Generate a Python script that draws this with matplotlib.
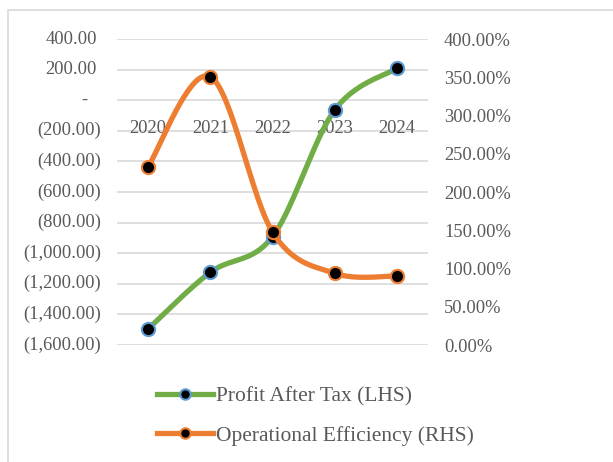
import matplotlib as mpl
import matplotlib.pyplot as plt
import matplotlib.transforms as mtransforms
from matplotlib.lines import Line2D
from matplotlib.patches import Rectangle
import numpy as np

mpl.rcParams.update(
    {
        "font.family": ["Liberation Serif", "DejaVu Serif"],
        "font.size": 13,
        "text.color": "#595959",
    }
)

YEARS = ["2020", "2021", "2022", "2023", "2024"]
PROFIT_AFTER_TAX = [-1495, -1125, -892, -64, 208]
OPERATIONAL_EFFICIENCY = [233.0, 350.7, 147.7, 93.7, 90.2]

LEFT_TICKS = [400, 200, 0, -200, -400, -600, -800, -1000, -1200, -1400, -1600]
RIGHT_TICKS = [0, 50, 100, 150, 200, 250, 300, 350, 400]

GREEN = "#70AD47"
ORANGE = "#ED7D31"
BLUE = "#5B9BD5"
GRID = "#D9D9D9"
TEXT = "#595959"


def smooth(x, y, n=40):
    # Excel-style smoothed line: cubic Bezier through each point
    x = np.asarray(x, dtype=float)
    y = np.asarray(y, dtype=float)
    px = np.concatenate([[x[0]], x, [x[-1]]])
    py = np.concatenate([[y[0]], y, [y[-1]]])
    xs, ys = [], []
    t = np.linspace(0, 1, n)
    for i in range(len(x) - 1):
        p0 = np.array([px[i + 1], py[i + 1]])
        p3 = np.array([px[i + 2], py[i + 2]])
        c1 = p0 + (np.array([px[i + 2], py[i + 2]]) - np.array([px[i], py[i]])) / 6
        c2 = p3 - (np.array([px[i + 3], py[i + 3]]) - np.array([px[i + 1], py[i + 1]])) / 6
        b = (
            ((1 - t) ** 3)[:, None] * p0
            + (3 * (1 - t) ** 2 * t)[:, None] * c1
            + (3 * (1 - t) * t ** 2)[:, None] * c2
            + (t ** 3)[:, None] * p3
        )
        xs.append(b[:, 0])
        ys.append(b[:, 1])
    return np.concatenate(xs), np.concatenate(ys)


def acct(v):
    if v == 0:
        return "-"
    s = f"{abs(v):,.2f}"
    return f"({s})" if v < 0 else s


W, H = 613, 462
fig = plt.figure(figsize=(W / 100, H / 100), dpi=100)
fig.patches.append(
    Rectangle((7.5 / W, -0.1), 1.2, 1 - 10.5 / H + 0.1, transform=fig.transFigure,
              facecolor="none", edgecolor=GRID, linewidth=1.2)
)

ax = fig.add_axes([117 / W, 117 / H, 311 / W, 306 / H])
ax2 = ax.twinx()

x = np.arange(len(YEARS))
ax.set_xlim(-0.5, len(YEARS) - 0.5)
ax.set_ylim(-1600, 400)
ax2.set_ylim(0, 400)

for v in LEFT_TICKS:
    ax.axhline(v, color=GRID, linewidth=1.2, zorder=0)

sx, sy = smooth(x, PROFIT_AFTER_TAX)
ax.plot(sx, sy, color=GREEN, linewidth=3.8, solid_capstyle="round", zorder=2)
ax.plot(x, PROFIT_AFTER_TAX, linestyle="none", marker="o", markersize=9.5,
        markerfacecolor="black", markeredgecolor=BLUE, markeredgewidth=1.5, zorder=3)

ox, oy = smooth(x, OPERATIONAL_EFFICIENCY)
ax2.plot(ox, oy, color=ORANGE, linewidth=3.8, solid_capstyle="round", zorder=2)
ax2.plot(x, OPERATIONAL_EFFICIENCY, linestyle="none", marker="o", markersize=9.5,
         markerfacecolor="black", markeredgecolor=ORANGE, markeredgewidth=1.5, zorder=3)

for a in (ax, ax2):
    for s in a.spines.values():
        s.set_visible(False)

# left axis: accounting format labels
ax.set_yticks([])
lab_tr = ax.get_yaxis_transform()
for v in LEFT_TICKS:
    if v < 0:
        off = -16
    elif v == 0:
        off = -30
    else:
        off = -20
    tr = mtransforms.offset_copy(lab_tr, fig=fig, x=off, y=0, units="dots")
    ax.text(0, v, acct(v), transform=tr, ha="right", va="center",
            fontsize=13.3, color=TEXT)

# category labels sit below the zero line
ax.spines["bottom"].set_position(("data", 0))
ax.set_xticks(x)
ax.set_xticklabels(YEARS)
ax.tick_params(axis="x", length=0, pad=14, labelsize=13.3, labelcolor=TEXT)

ax2.set_yticks(RIGHT_TICKS)
ax2.set_yticklabels([f"{v:.2f}%" for v in RIGHT_TICKS])
ax2.tick_params(axis="y", length=0, pad=11.5, labelsize=13.3, labelcolor=TEXT)

handles = [
    Line2D([0], [0], color=GREEN, linewidth=3.8, marker="o", markersize=7.5,
           markerfacecolor="black", markeredgecolor=BLUE, markeredgewidth=1.5),
    Line2D([0], [0], color=ORANGE, linewidth=3.8, marker="o", markersize=7.5,
           markerfacecolor="black", markeredgecolor=ORANGE, markeredgewidth=1.5),
]
fig.legend(
    handles,
    ["Profit After Tax (LHS)", "Operational Efficiency (RHS)"],
    loc="center left",
    bbox_to_anchor=(157 / W, 1 - 416 / H),
    frameon=False,
    fontsize=15.5,
    handlelength=2.6,
    handletextpad=0.14,
    labelspacing=0.92,
    borderpad=0,
    borderaxespad=0,
    labelcolor=TEXT,
)

fig.savefig("out.png", dpi=100)
